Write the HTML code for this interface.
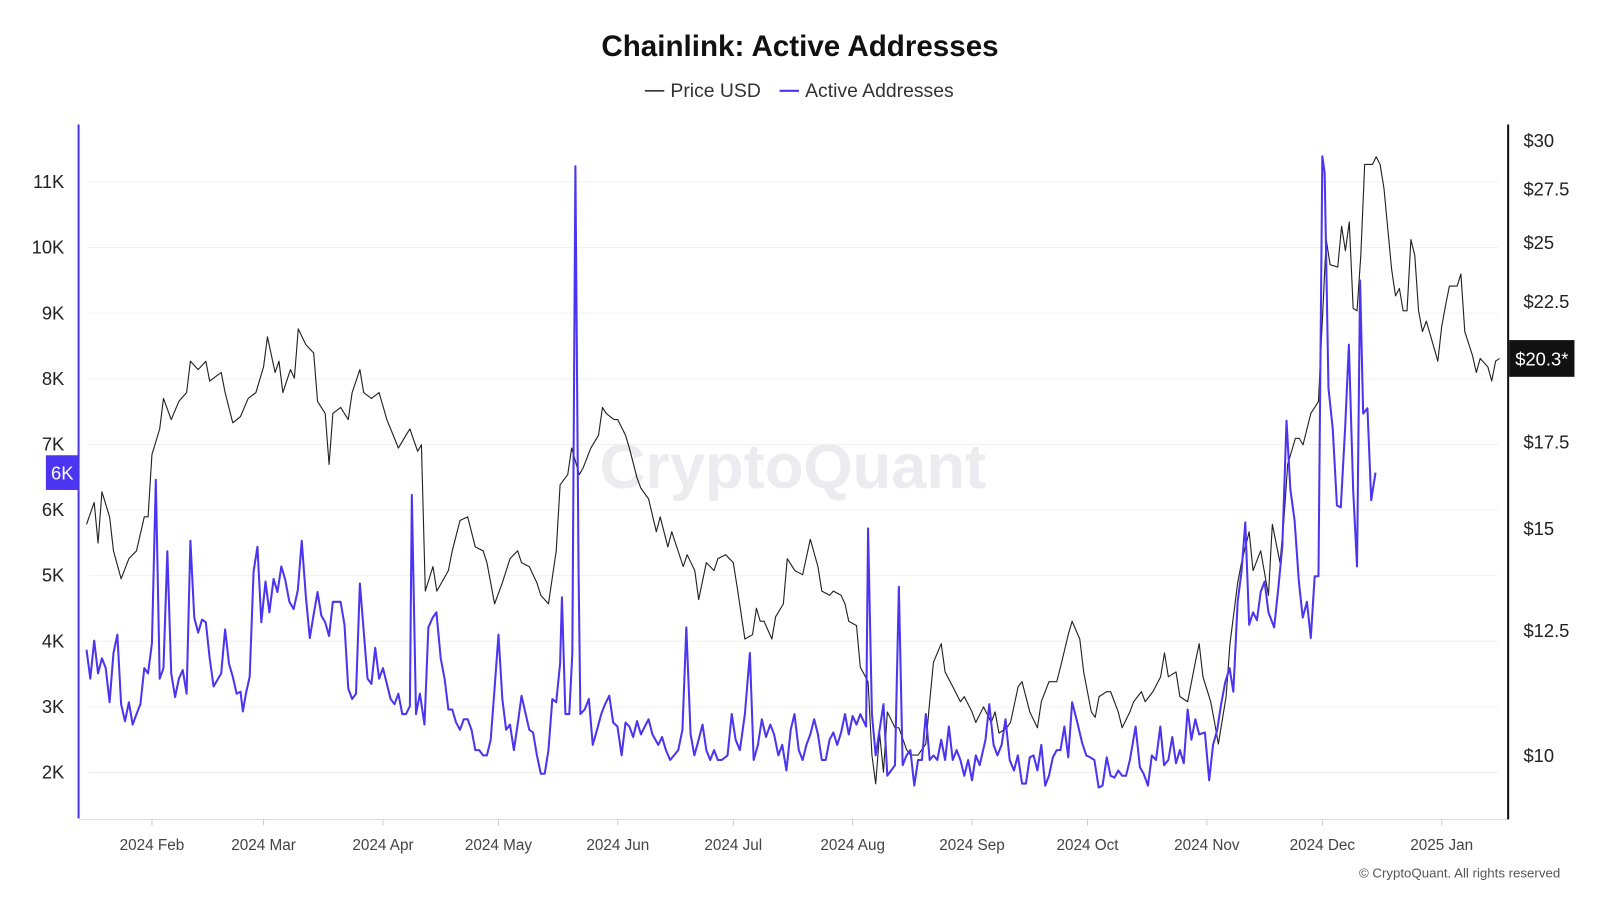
<!DOCTYPE html>
<html><head><meta charset="utf-8"><style>
html,body{margin:0;padding:0;background:#fff;}
body{width:1600px;height:900px;overflow:hidden;font-family:"Liberation Sans",sans-serif;}
</style></head><body>
<svg id="chart" width="1600" height="900" xmlns="http://www.w3.org/2000/svg" style="font-family:'Liberation Sans',sans-serif">
<g transform="scale(1.0204)">
<text x="784" y="55" text-anchor="middle" font-size="29" font-weight="bold" fill="#111">Chainlink: Active Addresses</text>
<g>
<g><line x1="632" y1="89" x2="651" y2="89" stroke="#333" stroke-width="1.5"/><text x="657" y="95" font-size="19" fill="#333">Price USD</text></g>
<g><line x1="764" y1="89" x2="783" y2="89" stroke="#4b35f0" stroke-width="2"/><text x="789" y="95" font-size="19" fill="#333">Active Addresses</text></g>
</g>
<text x="777" y="478" text-anchor="middle" font-size="62" font-weight="bold" fill="#ebebf0">CryptoQuant</text>
<g id="grid"></g>
<g id="xaxis"></g>
<g id="yleft"></g>
<g id="yright"></g>
<g id="series"></g>
<g id="badges"></g>
<text x="1529" y="860" text-anchor="end" font-size="13" fill="#555">© CryptoQuant. All rights reserved</text>
</g>
</svg>
<script>
const monthLabels=["2024 Feb","2024 Mar","2024 Apr","2024 May","2024 Jun","2024 Jul","2024 Aug","2024 Sep","2024 Oct","2024 Nov","2024 Dec","2025 Jan"];
const monthDays=[18,47,78,108,139,169,200,231,261,292,322,353];
const leftTicks=[2000,3000,4000,5000,6000,7000,8000,9000,10000,11000];
const leftTickLabels=["2K","3K","4K","5K","6K","7K","8K","9K","10K","11K"];
const rightTicks=[10,12.5,15,17.5,22.5,25,27.5,30];
const rightTickLabels=["$10","$12.5","$15","$17.5","$22.5","$25","$27.5","$30"];
const priceDays=[1,3,4,5,7,8,10,12,14,16,17,18,20,21,23,25,27,28,30,32,33,36,37,39,41,43,45,47,48,50,51,52,54,55,56,58,60,61,63,64,65,67,69,70,72,73,75,77,79,81,82,84,85,87,88,89,91,92,95,96,98,100,102,104,105,107,109,111,113,114,116,118,119,121,123,124,126,127,129,130,132,134,135,136,138,139,141,142,144,145,147,149,150,152,153,156,157,159,160,162,164,165,167,169,170,172,174,175,176,177,179,180,182,183,185,187,189,191,192,194,195,197,198,199,201,202,204,205,206,207,208,209,211,212,214,215,217,219,220,221,223,224,226,228,229,231,232,234,236,237,238,240,241,243,244,246,248,249,251,253,254,256,257,259,260,262,263,264,266,267,269,270,272,273,275,276,278,280,281,282,284,285,287,289,290,291,293,294,295,297,298,300,301,303,304,306,308,309,311,312,313,315,316,317,319,320,321,323,324,326,327,328,329,330,331,332,333,335,336,337,338,340,341,342,343,344,345,346,347,348,349,351,352,353,354,355,357,358,359,361,362,363,365,366,367,368];
const priceVals=[15.1,15.7,14.6,16.0,15.3,14.4,13.7,14.2,14.4,15.3,15.3,17.1,17.9,18.9,18.2,18.8,19.1,20.2,19.9,20.2,19.5,19.8,19.1,18.1,18.3,18.9,19.1,20.0,21.1,19.8,20.2,19.1,19.9,19.6,21.4,20.8,20.5,18.8,18.4,16.8,18.4,18.6,18.2,19.1,19.9,19.1,18.9,19.1,18.2,17.6,17.3,17.7,17.9,17.2,17.4,13.4,14.0,13.4,13.9,14.4,15.2,15.3,14.5,14.4,14.1,13.1,13.6,14.2,14.4,14.1,14.0,13.6,13.3,13.1,14.4,16.2,16.5,17.3,16.5,16.7,17.3,17.7,18.6,18.4,18.2,18.2,17.7,17.3,16.4,16.1,15.8,14.9,15.3,14.5,14.9,14.0,14.3,13.9,13.2,14.1,13.9,14.2,14.3,14.1,13.5,12.3,12.4,13.0,12.7,12.7,12.3,12.8,13.1,14.2,13.9,13.8,14.7,14.0,13.4,13.3,13.4,13.3,13.1,12.7,12.6,11.7,11.4,10.0,9.5,10.4,9.7,10.8,10.5,10.5,10.1,10.0,10.0,10.2,11.0,11.8,12.2,11.6,11.3,11.0,11.1,10.8,10.6,10.9,10.6,10.8,10.4,10.5,10.6,11.3,11.4,10.8,10.5,11.0,11.4,11.4,11.7,12.4,12.7,12.3,11.6,10.8,10.7,11.1,11.2,11.2,10.8,10.5,10.8,11.0,11.2,11.0,11.2,11.5,12.0,11.5,11.6,11.1,11.0,11.8,12.2,11.5,11.0,10.6,10.2,11.1,12.2,13.6,14.1,14.9,13.9,14.4,13.3,15.1,14.1,15.2,16.8,17.6,17.6,17.4,18.4,18.6,18.8,25.1,24.0,23.9,25.7,24.6,25.9,22.2,22.1,24.4,28.7,28.7,29.1,28.7,27.5,23.8,22.7,23.0,22.1,22.1,25.1,24.4,22.1,21.3,21.7,20.7,20.2,21.5,22.3,23.1,23.1,23.6,21.3,20.4,19.8,20.3,20.0,19.5,20.2,20.3];
const activeDays=[1,2,3,4,5,6,7,8,9,10,11,12,13,14,15,16,17,18,19,20,21,22,23,24,25,26,27,28,29,30,31,32,33,34,36,37,38,39,40,41,41.6,42.4,43.4,44.4,45.4,46.4,47.5,48.5,49.6,50.6,51.6,52.6,53.7,54.8,55.9,56.9,58,59,60,61,62,63,64,65,67,68,69,70,71,72,73,74,75,76,77,78,80,81,82,83,84,85,85.5,86.6,87.6,88.8,89.8,90.9,91.9,93,94,95,96,97,98,99,100,101,102,103,104,105,106,107,108,109,110,111,112,113,114,116,117,118,119,120,121,122,123,124,124.5,125.4,126.4,127.2,128,128.8,129.3,130.4,131.5,132.5,133.6,134.7,135.7,136.8,137.8,138.9,140,141,142,143,144,145,146,147,148,149.5,150.5,151.5,152.6,153.6,154.7,155.8,156.8,157.9,158.9,160,161,162,163,164,165,166,167.5,168.6,169.6,170.7,172,173.3,174.3,175.4,176.4,177.5,178.6,179.6,180.7,181.7,182.8,183.9,184.9,186,187,188,189,190,191,192,193,194,195,196,197,198,199,200,201,202,203.5,204,205,206,207,208,209,210,211,212,213,214,215,216,217,218,219,220,221,222,223,224,225,226,227,228,229,230,231,232,233,234.5,235.5,236.6,237.6,238.7,239.7,240.8,241.9,242.9,244,245,246,247,248,249,250,251,252,253,254,255,256,257,258.5,259.6,260.7,261.7,262.8,263.9,264.9,266,267,268,269,270,271,272,273.5,274.6,275.6,276.7,277.7,278.8,279.9,280.9,282,283,284,285,286,287,288,289,290,291.5,292.6,293.6,294.7,295.7,296.8,297.9,298.9,300,301,302,303,304,305,306,307,308,309.5,310.6,311.6,312.7,313.7,314.8,315.9,316.9,318,319,320,321,322,322.6,323.6,324.7,325.8,326.8,327.9,328.9,330,331,331.8,332.6,333.7,334.7,335.8];
const activeVals=[3870,3430,4010,3510,3740,3590,3070,3820,4100,3040,2780,3070,2730,2890,3040,3590,3510,3970,6460,3430,3590,5370,3510,3150,3430,3560,3200,5530,4360,4130,4330,4290,3740,3310,3510,4180,3660,3460,3200,3230,2930,3200,3460,5060,5440,4290,4910,4440,4950,4750,5140,4940,4600,4490,4780,5530,4670,4050,4410,4750,4390,4290,4080,4600,4600,4250,3280,3120,3200,4880,4160,3430,3350,3900,3430,3590,3120,3040,3200,2890,2890,3010,6230,2890,3200,2730,4210,4360,4440,3740,3430,2960,2960,2760,2650,2810,2810,2650,2340,2340,2260,2260,2500,3280,4100,3120,2650,2730,2340,2730,3170,2650,2610,2260,1980,1980,2340,3120,3070,3660,4670,2890,2890,3820,11240,5060,2890,2960,3120,2420,2650,2890,3040,3170,2760,2700,2260,2760,2700,2540,2780,2580,2700,2810,2580,2420,2540,2340,2190,2260,2340,2650,4210,2580,2260,2500,2730,2340,2190,2340,2190,2190,2260,2890,2500,2340,2890,3820,2190,2420,2810,2540,2730,2580,2260,2420,2030,2650,2890,2340,2190,2420,2580,2810,2580,2190,2190,2500,2610,2420,2610,2890,2580,2860,2730,2890,2700,5720,2890,2260,2650,3040,1950,2030,2110,4830,2110,2260,2340,1800,2190,2190,2890,2190,2260,2190,2500,2190,2700,2190,2340,2190,1950,2190,1880,2260,2110,2500,3040,2420,2260,2420,2810,2190,2030,2260,1830,1830,2230,2260,2030,2420,1800,1950,2230,2340,2340,2700,2230,3070,2730,2450,2260,2230,2190,1770,1800,2230,1950,1920,2030,1950,1950,2190,2700,2080,1980,1800,2260,2190,2700,2110,2190,2540,2140,2340,2140,2960,2500,2810,2580,2610,1880,2420,2650,3040,3380,3590,3230,4600,5060,5810,4250,4440,4320,4750,4910,4440,4210,4830,5450,7360,6310,5840,4910,4360,4600,4050,4990,4990,11390,11130,7860,7240,6070,6040,7240,8520,6310,5140,9500,7470,7550,6150,6570];

const NS="http://www.w3.org/2000/svg";
const X0=81, PXDAY=3.773;
function xScale(d){return X0+d*PXDAY;}
function yLeft(v){return 757-(v-2000)*0.0643;}
function yRight(p){return 740-549*Math.log(p/10);}
function mk(tag,attrs,parent){const e=document.createElementNS(NS,tag);for(const k in attrs)e.setAttribute(k,attrs[k]);parent.appendChild(e);return e;}
const grid=document.getElementById('grid'),xa=document.getElementById('xaxis'),yl=document.getElementById('yleft'),yr=document.getElementById('yright'),ser=document.getElementById('series'),bad=document.getElementById('badges');

leftTicks.forEach((v,i)=>{
  const y=yLeft(v);
  const g=mk('line',{x1:87,x2:1468,y1:y,y2:y,stroke:'#f0f0f0','stroke-width':1},grid);
  
  
  const t=mk('text',{x:63,y:y+6,'text-anchor':'end','font-size':18,fill:'#222'},yl);
  t.textContent=leftTickLabels[i];
  
  
});
const la=mk('line',{x1:77,x2:77,y1:122,y2:802,stroke:'#4b35f0','stroke-width':2},yl);



rightTicks.forEach((p,i)=>{
  const y=yRight(p);
  const t=mk('text',{x:1493,y:y+7,'font-size':18,fill:'#222'},yr);
  t.textContent=rightTickLabels[i];
  
  
});
const ra=mk('line',{x1:1478,x2:1478,y1:122,y2:803,stroke:'#111','stroke-width':2},yr);



const xl=mk('line',{x1:77,x2:1478,y1:803,y2:803,stroke:'#ddd','stroke-width':1},xa);


monthDays.forEach((d,i)=>{
  const x=xScale(d);
  const tk=mk('line',{x1:x,x2:x,y1:803,y2:809,stroke:'#ccc'},xa);
  
  
  const t=mk('text',{x:x,y:833,'text-anchor':'middle','font-size':15,fill:'#444'},xa);
  t.textContent=monthLabels[i];
  
  
});

let pp=priceDays.map((d,i)=>xScale(d).toFixed(1)+','+yRight(priceVals[i]).toFixed(1)).join(' ');
const pl=mk('polyline',{points:pp,fill:'none',stroke:'#222','stroke-width':1.1,'stroke-linejoin':'round'},ser);


let ap=activeDays.map((d,i)=>xScale(d).toFixed(1)+','+yLeft(activeVals[i]).toFixed(1)).join(' ');
const al=mk('polyline',{points:ap,fill:'none',stroke:'#4b35f0','stroke-width':2,'stroke-linejoin':'round'},ser);



const lastA=activeVals[activeVals.length-1], ya=yLeft(lastA);
const b1=mk('rect',{x:45,y:ya-17,width:32,height:34,fill:'#4b35f0'},bad);


const t1=mk('text',{x:61,y:ya+7,'text-anchor':'middle','font-size':18,fill:'#fff'},bad);
t1.textContent=Math.floor(lastA/1000)+'K';


const lastP=priceVals[priceVals.length-1], yp=yRight(lastP);
const b2=mk('rect',{x:1479,y:yp-18,width:64,height:36,fill:'#111'},bad);


const t2=mk('text',{x:1511,y:yp+7,'text-anchor':'middle','font-size':18,fill:'#fff'},bad);
t2.textContent='$'+lastP.toFixed(1)+'*';


</script>
</body></html>
